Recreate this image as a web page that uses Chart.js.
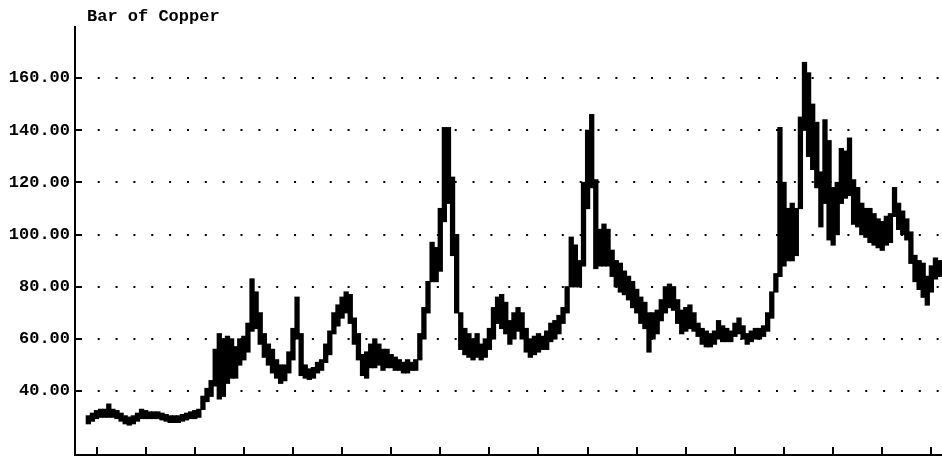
<!DOCTYPE html>
<html>
<head>
<meta charset="utf-8">
<title>Bar of Copper</title>
<script src="https://cdn.jsdelivr.net/npm/chart.js@4.4.1/dist/chart.umd.min.js"></script>
<style>
  html, body { margin: 0; padding: 0; background: #fff; }
  #wrap { width: 942px; height: 457px; position: relative; }
</style>
</head>
<body>
<div id="wrap"><canvas id="copper"></canvas></div>
<script>
// Monthly copper price bars (low/high), first bar is month 10 of the series
const TITLE = 'Bar of Copper';
const FIRST_MONTH = 10;

const lows = [
  27.5, 28.5, 29.5, 30, 30, 30, 30, 29.5, 28.5, 27.5,
  27, 27.5, 28.5, 29.5, 29.5, 29.5, 29.5, 29.5, 29, 28.5,
  28, 28, 28, 28.5, 29, 29.5, 29.5, 30, 33, 36,
  38, 42, 37, 38, 43, 45, 45, 50, 52, 55,
  63, 64, 58, 53, 50, 47, 45, 43, 44, 47,
  52, 60, 46, 45, 44.5, 45, 47, 48, 51, 54,
  62, 65, 68, 70, 66, 58, 52, 46, 45, 49,
  49, 50, 48, 49, 49, 48, 48, 47, 47, 48,
  48, 52, 60, 70, 82, 82, 86, 105, 112, 92,
  70, 56, 54, 53, 52, 53, 52, 53, 56, 60,
  66, 64, 62, 58, 60, 63, 60, 55, 53, 54,
  55, 56, 56, 59, 60, 62, 66, 70, 80, 80,
  80, 88, 110, 118, 87, 88, 88, 88, 84, 80,
  78, 77, 75, 72, 70, 66, 64, 55, 60, 62,
  67, 70, 72, 71, 66, 62, 63, 64, 63, 61,
  58, 57, 57, 58, 60, 59, 59, 59, 61, 62,
  60, 58, 59, 60, 60, 61, 63, 68, 78, 84,
  88, 90, 90, 92, 110, 140, 130, 125, 118, 103,
  112, 98, 96, 100, 112, 114, 115, 104, 103, 100,
  99, 97, 96, 95, 94, 96, 97, 107, 102, 100,
  98, 89, 82, 79, 76, 73, 78, 83, 84
];

const highs = [
  30.5, 31.5, 32.5, 33, 33, 35, 33, 32.5, 31.5, 30.5,
  30, 30.5, 31.5, 33, 32.5, 32, 32, 32, 31.5, 31,
  30.5, 30.5, 30.5, 31, 31.5, 32, 32.5, 33, 38, 41,
  44, 56, 62, 60, 61, 60, 57, 60, 61, 66,
  83, 78, 70, 62, 58, 56, 52, 50, 50, 55,
  64, 76, 62, 50, 48.5, 49, 51, 52, 58, 63,
  70, 73, 76, 78, 77, 68, 62, 54, 55, 58,
  60, 58, 56, 56, 54, 53, 52, 51, 52, 51,
  52, 62, 72, 82, 97, 95, 110, 141, 141, 122,
  100, 70, 64, 62, 60, 62, 58, 60, 64, 72,
  76, 77, 74, 67, 70, 72, 70, 64, 60, 61,
  62, 61, 63, 66, 67, 69, 72, 80, 99, 96,
  90, 120, 140, 146, 121, 102, 104, 102, 94, 90,
  89, 86, 84, 82, 79, 76, 74, 70, 70, 71,
  75, 80, 81, 80, 75, 71, 72, 73, 70, 66,
  64, 63, 62, 63, 67, 65, 64, 63, 66, 68,
  65, 62, 63, 64, 64, 65, 70, 78, 85, 141,
  120, 110, 112, 110, 145, 166, 162, 150, 143, 124,
  144, 136, 118, 120, 133, 132, 137, 121, 118, 112,
  110, 110, 108, 106, 105, 107, 108, 118, 112, 109,
  106, 101, 92, 90, 89, 84, 88, 91, 90
];

const yTicks = [40, 60, 80, 100, 120, 140, 160];
const xTicks = [12, 24, 36, 48, 60, 72, 84, 96, 108, 120, 132, 144, 156, 168, 180, 192, 204, 216];

const FONT = { family: "'Liberation Mono', 'DejaVu Sans Mono', monospace", size: 17, weight: 'bold' };

const bars = lows.map((lo, i) => ({ x: FIRST_MONTH + i, y: [lo, highs[i]] }));

// inward tick marks on both axes, plus the title in the top-left corner
const axisMarks = {
  id: 'axisMarks',
  afterDraw(chart) {
    const { ctx, chartArea: a, scales: { x, y } } = chart;
    ctx.save();
    ctx.strokeStyle = '#000';
    ctx.lineWidth = 2;
    ctx.beginPath();
    yTicks.forEach(v => {
      const py = Math.round(y.getPixelForValue(v));
      ctx.moveTo(a.left, py);
      ctx.lineTo(a.left + 7, py);
    });
    xTicks.forEach(v => {
      const px = Math.round(x.getPixelForValue(v));
      ctx.moveTo(px, a.bottom);
      ctx.lineTo(px, a.bottom - 8);
    });
    ctx.stroke();
    ctx.fillStyle = '#000';
    ctx.font = `${FONT.weight} ${FONT.size}px ${FONT.family}`;
    ctx.textBaseline = 'middle';
    ctx.fillText(TITLE, a.left + 12, 17);
    ctx.restore();
  }
};

new Chart(document.getElementById('copper'), {
  type: 'bar',
  data: {
    datasets: [{
      data: bars,
      backgroundColor: '#000',
      borderWidth: 0,
      inflateAmount: 0.6,
      barPercentage: 1,
      categoryPercentage: 1
    }]
  },
  options: {
    responsive: true,
    maintainAspectRatio: false,
    animation: false,
    layout: { padding: { top: 27, right: 0, bottom: 0, left: 0 } },
    plugins: { legend: { display: false }, tooltip: { enabled: false }, title: { display: false } },
    scales: {
      x: {
        type: 'linear',
        min: 6.74,
        max: 218.6,
        offset: false,
        grid: { display: false, drawTicks: false },
        border: { display: true, color: '#000', width: 2 },
        ticks: { display: false },
        afterBuildTicks: s => { s.ticks = xTicks.map(v => ({ value: v })); },
        afterFit: s => {
          s.height = 2;
          s.paddingLeft = s.paddingRight = 0;
        }
      },
      y: {
        min: 15.5,
        max: 179.6,
        grid: { color: '#000', lineWidth: 2, drawTicks: false },
        border: { display: true, color: '#000', width: 2, dash: [2, 15.85], dashOffset: 14 },
        ticks: {
          color: '#000',
          font: FONT,
          padding: 5,
          callback: v => Number(v).toFixed(2)
        },
        afterBuildTicks: s => { s.ticks = yTicks.map(v => ({ value: v })); },
        afterFit: s => {
          s.width = 75;
          // labels sit well inside the range, so no extra room is needed above or below
          s.paddingTop = s.paddingBottom = 0;
        }
      }
    }
  },
  plugins: [axisMarks]
});
</script>
</body>
</html>
